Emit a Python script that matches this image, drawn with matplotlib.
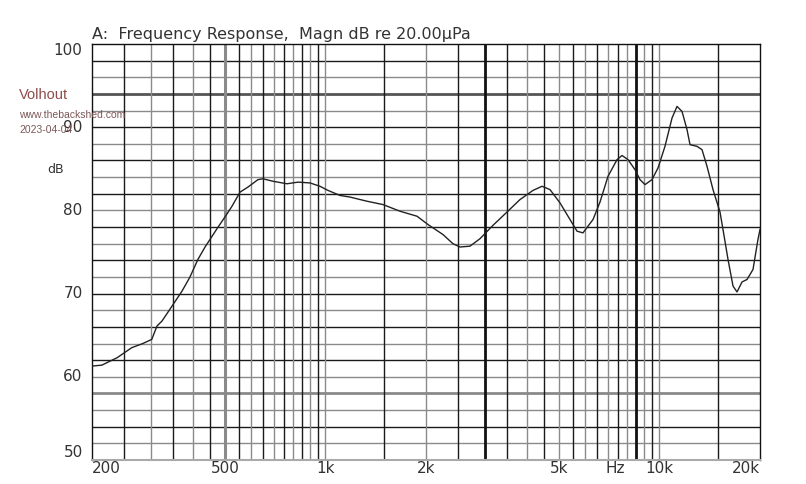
import matplotlib
matplotlib.use("Agg")
import matplotlib.pyplot as plt

# Measured response (Hz, dB)
freq = [201, 214, 238, 263, 284, 302, 313, 324, 342, 372, 393, 415, 436, 451,
        477, 500, 525, 555, 586, 628, 650, 697, 767, 828, 899, 963, 1018, 1105,
        1185, 1332, 1487, 1672, 1880, 2028, 2248, 2408, 2528, 2708, 2902, 3173,
        3495, 3823, 4181, 4450, 4702, 5038, 5398, 5666, 5902, 6325, 6637, 7014,
        7464, 7726, 8051, 8448, 8744, 9052, 9498, 9900, 10388, 10904, 11287,
        11683, 12093, 12346, 12955, 13410, 13880, 14466, 15180, 15498, 16043,
        16606, 17070, 17670, 18290, 19057, 19720, 20000]
spl = [61.3, 61.4, 62.3, 63.5, 64.0, 64.5, 66.1, 66.7, 68.1, 70.3, 72.0, 74.1,
       75.6, 76.5, 78.0, 79.2, 80.5, 82.2, 82.8, 83.7, 83.8, 83.5, 83.2, 83.4,
       83.3, 82.9, 82.4, 81.8, 81.6, 81.1, 80.7, 79.9, 79.3, 78.3, 77.1, 76.0,
       75.6, 75.7, 76.6, 78.2, 79.8, 81.3, 82.4, 82.9, 82.5, 80.9, 78.9, 77.5,
       77.3, 78.9, 81.0, 84.1, 86.1, 86.6, 86.1, 84.9, 83.7, 83.1, 83.7, 85.1,
       87.7, 91.1, 92.5, 91.9, 89.7, 87.9, 87.7, 87.3, 85.3, 82.5, 79.8, 77.7,
       74.1, 70.9, 70.2, 71.4, 71.7, 72.9, 76.5, 77.7]

xgrid = [250, 300, 350, 400, 450, 500, 550, 600, 650, 700, 750, 800, 850, 900,
         950, 1000, 1500, 2000, 2500, 3000, 3500, 4000, 4500, 5000, 5500, 6000,
         6500, 7000, 7500, 8000, 8500, 9000, 9500, 10000, 15000]
ygrid = list(range(52, 100, 2))
xticks = [200, 500, 1000, 2000, 5000, 10000, 20000]
xlabels = ["200", "500", "1k", "2k", "5k", "10k", "20k"]
yticks = [100, 90, 80, 70, 60, 50]

fig = plt.figure(figsize=(8.06, 4.84), dpi=100)
ax = fig.add_axes([92 / 806, 1 - 460 / 484, 668 / 806, 416 / 484])
ax.set_xscale("log")
ax.set_xlim(200, 20000)
ax.set_ylim(50, 100)

# grid, mixed dark / grey like the scanned original
for y in ygrid:
    c = "#1a1a1a" if y % 4 == 2 else "#8a8a8a"
    lw = 1.0
    if y == 94:
        c, lw = "#555555", 2.0
    elif y == 58:
        c, lw = "#8a8a8a", 2.0
    ax.axhline(y, color=c, lw=lw, zorder=1)
for i, x in enumerate(xgrid):
    c = "#1a1a1a" if i % 2 == 0 else "#8a8a8a"
    lw = 1.0
    if x == 500:
        c, lw = "#8a8a8a", 2.2
    elif x in (3000, 8500):
        c, lw = "#111111", 2.0
    ax.axvline(x, color=c, lw=lw, zorder=1)

ax.plot(freq, spl, color="#222222", lw=1.0, zorder=3)

for s in ["top", "left", "right"]:
    ax.spines[s].set_color("#111111")
    ax.spines[s].set_linewidth(1.0)
ax.spines["bottom"].set_color("#aaaaaa")
ax.spines["bottom"].set_linewidth(1.5)
ax.set_xticks([])
ax.set_yticks([])
ax.minorticks_off()

tc = "#333333"
fs = 11
for v in yticks:
    yy = v
    if v == 100:
        yy = 99.2
    elif v == 50:
        yy = 50.9
    ax.text(-0.014, yy, str(v), transform=ax.get_yaxis_transform(),
            ha="right", va="center", fontsize=fs, color=tc)
for v, lab in zip(xticks, xlabels):
    ha = "center"
    if v == 200:
        ha = "left"
    elif v == 20000:
        ha = "right"
    ax.text(v, -0.02, lab, transform=ax.get_xaxis_transform(),
            ha=ha, va="center", fontsize=fs, color=tc)
ax.text(7350, -0.02, "Hz", transform=ax.get_xaxis_transform(),
        ha="center", va="center", fontsize=fs, color=tc)
ax.text(-0.055, 84.9, "dB", transform=ax.get_yaxis_transform(),
        ha="center", va="center", fontsize=9, color=tc)
ax.text(0.0, 1.005, "A:  Frequency Response,  Magn dB re 20.00\u00b5Pa",
        transform=ax.transAxes, ha="left", va="bottom", fontsize=11.5, color=tc)

# watermark (overlaps the "90" label in the original too)
fig.text(19 / 806, 1 - 95 / 484, "Volhout", fontsize=10.5, color="#8e4c4c",
         family="Liberation Sans", va="center", ha="left")
fig.text(19 / 806, 1 - 115 / 484, "www.thebackshed.com", fontsize=7.5,
         color="#7d5858", family="Liberation Sans", va="center", ha="left")
fig.text(19 / 806, 1 - 130 / 484, "2023-04-04", fontsize=7.5,
         color="#7d5858", family="Liberation Sans", va="center", ha="left")

fig.savefig("out.png", dpi=100)
